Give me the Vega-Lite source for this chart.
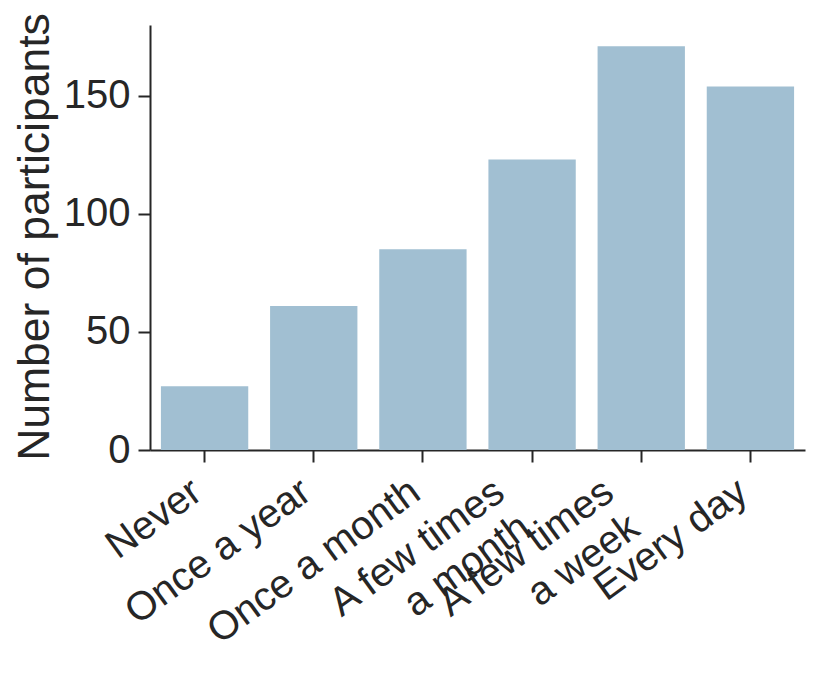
{
  "$schema": "https://vega.github.io/schema/vega-lite/v6.json",
  "autosize": "none",
  "padding": {"left": 150, "top": 25, "right": 25, "bottom": 231},
  "width": 655,
  "height": 425,
  "background": "white",
  "config": {
    "view": {"stroke": null},
    "font": "Liberation Sans",
    "axis": {
      "domainColor": "#262626",
      "tickColor": "#262626",
      "labelColor": "#262626",
      "titleColor": "#262626",
      "domainWidth": 2,
      "tickWidth": 2,
      "tickSize": 12,
      "grid": false,
      "labelFont": "Liberation Sans",
      "titleFont": "Liberation Sans",
      "labelFontSize": 40,
      "titleFontSize": 44.5,
      "titleFontWeight": "normal"
    }
  },
  "data": {
    "values": [
      {"frequency": "Never", "count": 27},
      {"frequency": "Once a year", "count": 61},
      {"frequency": "Once a month", "count": 85},
      {"frequency": "A few times\na month", "count": 123},
      {"frequency": "A few times\na week", "count": 171},
      {"frequency": "Every day", "count": 154}
    ]
  },
  "mark": {"type": "bar", "color": "#a1bfd2"},
  "encoding": {
    "x": {
      "field": "frequency",
      "type": "nominal",
      "sort": null,
      "scale": {"paddingInner": 0.2, "paddingOuter": 0.1},
      "axis": {
        "title": null,
        "labelAngle": -36,
        "labelAlign": "right",
        "labelBaseline": "top",
        "labelPadding": 9,
        "labelLimit": 1000,
        "labelOverlap": false,
        "labelBound": false,
        "labelLineHeight": 44,
        "labelExpr": "split(datum.label, '\\n')",
        "labelOffset": {"condition": {"test": "indexof(datum.value, '\\n') >= 0", "value": -44}, "value": -19}
      }
    },
    "y": {
      "field": "count",
      "type": "quantitative",
      "scale": {"domain": [0, 180], "nice": false},
      "axis": {
        "title": "Number of participants",
        "values": [0, 50, 100, 150],
        "labelPadding": 8,
        "titleAngle": -90,
        "titleAlign": "center",
        "titleBaseline": "alphabetic",
        "titleX": -102,
        "titleY": 211.5
      }
    }
  }
}
